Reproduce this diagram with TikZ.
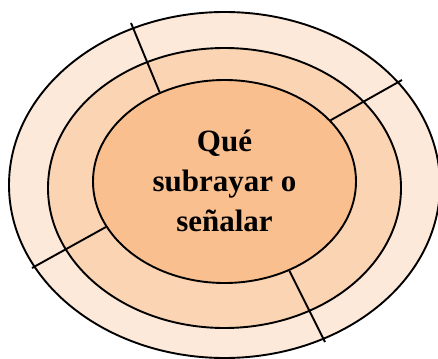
\documentclass[tikz,border=0pt]{standalone}
\usepackage{fontspec}
\setmainfont{Liberation Serif}
\usepackage{tikz}
\usetikzlibrary{shapes.geometric, positioning}

\definecolor{ringpale}{HTML}{FDE9D9}
\definecolor{ringmid}{HTML}{FBD4B4}
\definecolor{ringcore}{HTML}{FABF8F}

\begin{document}
\begin{tikzpicture}[x=1pt, y=-1pt,
    ring/.style={ellipse, draw=black, line width=1.9pt, inner sep=0pt},
    divider/.style={draw=black, line width=1.9pt},
    label/.style={align=center, font=\fontsize{31}{40}\selectfont\bfseries}
    ]
    \useasboundingbox (0,0) rectangle (438,358);
    \node (outer) [ring, fill=ringpale, minimum width=431pt, minimum height=346pt] at (224.5,185) {};
    \node (middle) [ring, fill=ringmid, minimum width=353pt, minimum height=280pt] at (224.5,188) {};
    \node (core) [ring, fill=ringcore, minimum width=263pt, minimum height=203pt] at (224.5,181.5) {};
    % free ends of the dividers
    \coordinate (nw) at (131,23);
    \coordinate (ne) at (402,80);
    \coordinate (sw) at (32,268);
    \coordinate (se) at (325,342);
    \draw[divider] (core.126) -- (nw);
    \draw[divider] (core.30) -- (ne);
    \draw[divider] (core.201.5) -- (sw);
    \draw[divider] (core.306.6) -- (se);
    \node (title) [label, anchor=base] at (224.5,231) {Qué\\subrayar o\\señalar};
\end{tikzpicture}
\end{document}
